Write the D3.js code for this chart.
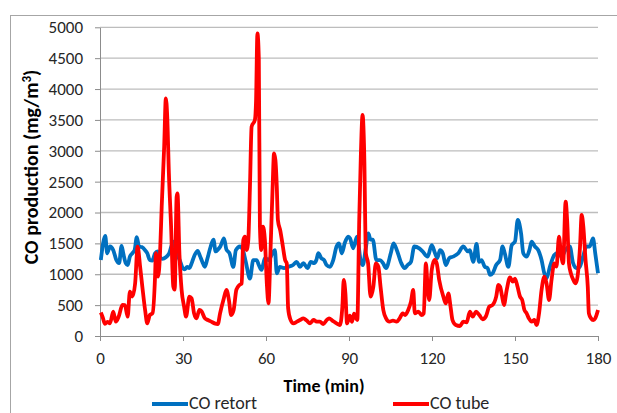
<!DOCTYPE html>
<html>
<head>
<meta charset="utf-8">
<script src="https://cdn.jsdelivr.net/npm/d3@7"></script>
<style>
  body { margin: 0; background: #fff; }
  svg { display: block; font-family: Carlito, Lato, "Open Sans", sans-serif; }
</style>
</head>
<body>
<svg id="chart" width="617" height="413"></svg>
<script>
// CO retort (blue)
const retortTime = [0.3, 1.9, 2.6, 3.6, 4.8, 5.9, 6.9, 7.8, 8.4, 9.3, 10.0, 10.8, 11.7, 12.5, 13.3, 14.1, 15.1, 16.3, 17.1, 18.0, 18.9, 19.9, 20.8, 21.7, 22.6, 23.8, 25.0, 26.5, 27.6, 28.8, 29.9,
  30.6, 31.5, 32.3, 33.3, 34.3, 35.3, 36.1, 37.0, 37.9, 38.8, 40.0, 41.0, 41.8, 42.6, 43.5, 44.8, 45.7, 46.8, 48.2, 49.1, 50.6, 51.6, 52.7, 54.2, 55.4, 56.6, 57.4, 58.4, 59.6,
  61.0, 62.3, 63.2, 63.9, 65.0, 66.5, 68.0, 69.8, 71.1, 72.3, 73.5, 75.0, 76.2, 77.4, 78.2, 78.9, 80.0, 81.0, 81.9, 83.1, 84.3, 85.5, 86.4, 87.4, 88.5, 89.7,
  90.4, 91.5, 92.9, 94.3, 95.0, 96.0, 97.0, 97.8, 98.6, 99.9, 101.2, 102.3, 103.4, 105.1, 106.1, 107.3, 108.9, 110.1, 111.2, 112.4, 113.6, 115.4, 116.6, 118.4, 119.9,
  121.1, 121.9, 122.9, 123.9, 125.0, 126.2, 127.6, 129.5, 131.3, 133.0, 133.7, 134.9, 136.1, 137.0, 137.9, 139.1, 140.1, 141.0, 141.9, 143.2, 144.6, 145.5, 146.3, 147.6, 148.8,
  150.0, 151.0, 152.2, 153.0, 154.2, 155.2, 156.0, 157.2, 158.4, 159.6, 160.6, 161.4, 162.6, 164.2, 165.4, 166.8, 168.2, 169.8, 171.0, 172.2, 173.4, 174.6, 175.8, 177.0, 178.2, 179.0, 180.0];
const retortValue = [1230, 1620, 1340, 1450, 1390, 1230, 1180, 1460, 1340, 1180, 1150, 1285, 1340, 1390, 1600, 1450, 1440, 1390, 1340, 1230, 1220, 1340, 1370, 1275, 1250, 1275, 1340, 1530, 1340, 1230, 1100,
  1080, 1120, 1100, 1200, 1320, 1380, 1300, 1200, 1120, 1250, 1450, 1560, 1370, 1400, 1450, 1580, 1400, 1340, 1120, 1390, 1450, 1400, 1200, 930, 1230, 1230, 1150, 1070, 1260,
  1230, 1340, 1390, 1015, 1120, 1100, 1120, 1150, 1200, 1120, 1180, 1100, 1200, 1180, 1230, 1340, 1260, 1230, 1150, 1120, 1230, 1450, 1500, 1340, 1510, 1610,
  1580, 1420, 1610, 1200, 1150, 1400, 1660, 1560, 1560, 1230, 1230, 1180, 1100, 1340, 1500, 1390, 1180, 1100, 1150, 1200, 1450, 1420, 1370, 1285, 1470,
  1340, 1260, 1390, 1340, 1150, 1260, 1285, 1340, 1450, 1370, 1390, 1200, 1490, 1200, 1230, 1120, 1100, 990, 1015, 1150, 1230, 1450, 1340, 1120, 1470,
  1530, 1880, 1660, 1340, 1285, 1390, 1530, 1450, 1390, 1230, 1015, 935, 1120, 1310, 1340, 1285, 1390, 1450, 1180, 1100, 1120, 1285, 1450, 1450, 1580, 1340, 1015];

// CO tube (red)
const tubeTime = [0.3, 1.0, 1.8, 2.7, 3.6, 4.8, 5.7, 6.8, 8.1, 9.0, 10.0, 10.8, 11.7, 12.7, 13.6, 14.5, 15.3, 16.3, 17.1, 18.0, 19.0, 19.9, 20.2, 21.0, 21.7, 22.3, 23.2, 23.8, 24.3, 24.9, 25.7, 26.5, 27.0, 27.7, 28.0, 28.7, 29.5,
  30.4, 31.1, 32.3, 33.1, 34.0, 34.9, 35.9, 36.7, 37.9, 39.0, 40.2, 41.4, 42.6, 43.4, 44.6, 45.7, 46.6, 47.4, 48.3, 49.3, 50.4, 51.2, 51.8, 52.4, 53.0, 53.6, 54.2, 54.8, 56.0, 56.4, 56.9, 57.4, 57.8, 58.3, 58.9, 59.6,
  60.3, 60.9, 61.6, 62.4, 62.9, 63.4, 63.9, 64.3, 65.2, 66.1, 66.9, 67.5, 68.0, 68.8, 69.9, 71.2, 72.3, 73.5, 74.7, 75.9, 77.2, 78.3, 79.5, 80.7, 82.0, 82.8, 84.0, 85.5, 86.7, 87.6, 88.1, 88.7, 89.3,
  90.3, 91.1, 91.8, 93.0, 93.7, 94.3, 94.9, 95.5, 96.1, 96.9, 97.8, 98.8, 99.7, 100.6, 101.4, 102.4, 103.4, 104.6, 105.9, 107.2, 108.3, 109.4, 110.3, 111.4, 112.4, 113.2, 113.8, 115.1, 116.2, 117.0, 117.8, 118.4, 119.0, 119.9,
  120.9, 121.7, 122.6, 124.1, 125.0, 125.9, 126.7, 127.4, 128.6, 130.1, 131.3, 132.5, 133.7, 134.7, 135.9, 137.1, 138.3, 139.5, 140.7, 141.9, 143.2, 144.0, 144.6, 145.3, 146.0, 147.0, 148.2, 149.2,
  150.0, 150.9, 151.8, 152.6, 153.4, 154.2, 155.0, 156.0, 157.0, 157.8, 158.7, 159.6, 160.6, 161.4, 162.3, 163.2, 164.2, 165.0, 165.9, 166.6, 167.4, 168.3, 168.9, 169.5, 170.2, 171.1, 171.9, 172.6, 173.5, 174.1, 174.7, 175.5, 176.3, 176.7, 177.5, 178.3, 179.0, 180.0];
const tubeValue = [380, 300, 195, 230, 205, 394, 232, 320, 502, 500, 313, 718, 640, 853, 1447, 1123, 799, 421, 205, 340, 370, 961, 1340, 961, 1340, 2095, 3067, 3850, 3550, 2635, 1771, 799, 750, 2257, 2311, 1340, 745,
  475, 313, 637, 610, 367, 286, 421, 400, 286, 259, 232, 205, 194, 367, 583, 745, 583, 340, 421, 750, 826, 853, 1555, 1609, 1393, 1555, 2419, 3391, 3500, 3800, 4900, 4500, 1771, 1393, 1771, 1555,
  850, 529, 1340, 2419, 2959, 2850, 2419, 1879, 1700, 1450, 1231, 1177, 450, 270, 205, 232, 259, 286, 250, 205, 259, 232, 232, 194, 260, 286, 250, 205, 178, 475, 907, 691, 205,
  330, 230, 360, 259, 1879, 2959, 3580, 2959, 1340, 1177, 637, 799, 1177, 1123, 799, 421, 286, 232, 250, 232, 286, 367, 340, 421, 556, 745, 367, 394, 340, 367, 1177, 799, 583, 1069,
  1231, 1177, 907, 637, 529, 691, 475, 259, 178, 162, 232, 220, 394, 313, 394, 340, 270, 320, 475, 502, 637, 826, 800, 650, 502, 745, 950, 880,
  930, 800, 640, 583, 421, 367, 286, 232, 259, 178, 367, 745, 961, 853, 583, 907, 1177, 1123, 1609, 1340, 1177, 2176, 1825, 1177, 1015, 907, 853, 961, 1447, 1960, 1771, 1231, 799, 367, 286, 259, 286, 421];

const xTicks = [0, 30, 60, 90, 120, 150, 180];
const yTicks = [0, 500, 1000, 1500, 2000, 2500, 3000, 3500, 4000, 4500, 5000];

const svg = d3.select("#chart");

var x = d3.scaleLinear().domain([0, 180]).range([100, 598]),
  y = d3.scaleLinear().domain([0, 5000]).range([336, 27.3]);

// outer chart border
svg.append("rect")
  .attr("x", 10.5).attr("y", 15.5)
  .attr("width", 640).attr("height", 420)
  .attr("fill", "none").attr("stroke", "#a6a6a6");

// gridlines
svg.append("g")
  .selectAll("line")
  .data(yTicks.slice(1))
  .enter()
  .append("line")
  .attr("x1", x(0)).attr("x2", x(180))
  .attr("y1", (d) => y(d)).attr("y2", (d) => y(d))
  .attr("stroke", "#bdbdbd").attr("stroke-width", 1.3);

// y axis
const yAxis = svg.append("g")
  .attr("transform", "translate(" + x(0) + ",0)")
  .call(d3.axisLeft(y).tickValues(yTicks).tickFormat(d3.format("d")).tickSize(5).tickPadding(12).tickSizeOuter(0));
yAxis.select(".domain").attr("stroke", "#8c8c8c");
yAxis.selectAll(".tick line").attr("stroke", "#8c8c8c");
yAxis.selectAll("text")
  .attr("font-size", 17).attr("fill", "#262626")
  .style("font-family", "Carlito, Lato, sans-serif");

// x axis
const xAxis = svg.append("g")
  .attr("transform", "translate(0," + y(0) + ")")
  .call(d3.axisBottom(x).tickValues(xTicks).tickFormat(d3.format("d")).tickSize(5).tickPadding(11).tickSizeOuter(0));
xAxis.select(".domain").attr("stroke", "#8c8c8c");
xAxis.selectAll(".tick line").attr("stroke", "#8c8c8c");
xAxis.selectAll("text")
  .attr("font-size", 17).attr("fill", "#262626")
  .style("font-family", "Carlito, Lato, sans-serif");

// axis titles
svg.append("text")
  .attr("transform", "translate(38,167) rotate(-90)")
  .attr("text-anchor", "middle")
  .attr("font-size", 20).attr("font-weight", "bold").attr("fill", "#000")
  .text("CO production (mg/m")
  .append("tspan").attr("baseline-shift", "super").attr("font-size", 13).text("3")
  .select(function () { return this.parentNode; })
  .append("tspan").text(")");

svg.append("text")
  .attr("x", 324).attr("y", 392)
  .attr("text-anchor", "middle")
  .attr("font-size", 18).attr("font-weight", "bold").attr("fill", "#000")
  .text("Time (min)");

// lines
const line = d3.line()
  .x((d) => x(d[0]))
  .y((d) => y(d[1]))
  .curve(d3.curveMonotoneX);

svg.append("path")
  .datum(retortTime.map((t, i) => [t, retortValue[i]]))
  .attr("d", line)
  .attr("fill", "none")
  .attr("stroke", "#0070c0")
  .attr("stroke-width", 3.8)
  .attr("stroke-linejoin", "round");

svg.append("path")
  .datum(tubeTime.map((t, i) => [t, tubeValue[i]]))
  .attr("d", line)
  .attr("fill", "none")
  .attr("stroke", "#ff0000")
  .attr("stroke-width", 3.8)
  .attr("stroke-linejoin", "round");

// legend
const legend = [
  { name: "CO retort", color: "#0070c0", x: 152 },
  { name: "CO tube", color: "#ff0000", x: 393 }
];
const lg = svg.append("g").selectAll("g").data(legend).enter().append("g");
lg.append("line")
  .attr("x1", (d) => d.x).attr("x2", (d) => d.x + 36)
  .attr("y1", 404).attr("y2", 404)
  .attr("stroke", (d) => d.color).attr("stroke-width", 4);
lg.append("text")
  .attr("x", (d) => d.x + 37).attr("y", 409)
  .attr("font-size", 18).attr("fill", "#262626")
  .text((d) => d.name);
</script>
</body>
</html>
